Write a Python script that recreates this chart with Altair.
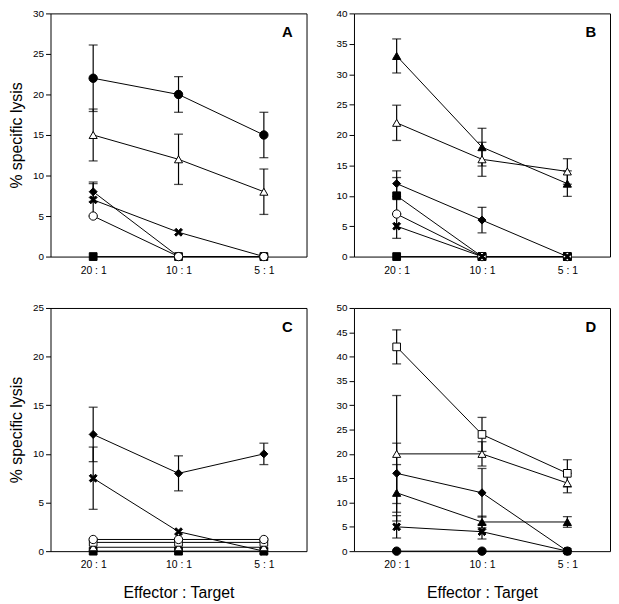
import altair as alt
import pandas as pd

ratios = ["20 : 1", "10 : 1", "5 : 1"]

# panel A
A_series = ["square_f", "circle_f", "tri_o", "diamond_f", "cross", "circle_o"]
A_values = [[0, 0, 0], [22, 20, 15], [15, 12, 8], [8, 0, 0], [7, 3, 0], [5, 0, 0]]
A_errors = [[0, 0, 0], [4.1, 2.2, 2.8], [3.2, 3.1, 2.8], [1.2, 0, 0], [2, 0, 0], [0, 0, 0]]

# panel B
B_series = ["square_f2", "tri_f", "tri_o", "diamond_f", "square_f", "circle_o", "cross"]
B_values = [[0, 0, 0], [33, 18, 12], [22, 16, 14], [12, 6, 0], [10, 0, 0], [7, 0, 0], [5, 0, 0]]
B_errors = [[0, 0, 0], [2.8, 3.1, 2.1], [2.9, 2.8, 2.1], [2.1, 2.1, 0], [3, 0, 0], [0, 0, 0], [2, 0, 0]]

# panel C
C_series = ["square_f", "diamond_f", "cross", "tri_o", "square_o", "circle_o"]
C_values = [[0, 0, 0], [12, 8, 10], [7.5, 2, 0], [0.4, 0.4, 0.4], [0.9, 0.9, 0.9], [1.2, 1.2, 1.2]]
C_errors = [[0, 0, 0], [2.8, 1.8, 1.1], [3.2, 0, 0], [0, 0, 0], [0, 0, 0], [0, 0, 0]]

# panel D
D_series = ["square_o", "tri_o", "diamond_f", "tri_f", "cross", "circle_f"]
D_values = [[42, 24, 16], [20, 20, 14], [16, 12, 0], [12, 6, 6], [5, 4, 0], [0, 0, 0]]
D_errors = [[3.5, 3.5, 2.8], [12, 2.5, 2], [6.2, 5, 0], [5.8, 1.2, 1.1], [2.3, 1.5, 0], [0, 0, 0]]

y_max = {"A": 30, "B": 40, "C": 25, "D": 50}

markers = ["circle_f", "circle_o", "tri_f", "tri_o", "diamond_f", "cross", "square_f", "square_o"]
X_PATH = "M-1,-0.6L-0.6,-1L0,-0.4L0.6,-1L1,-0.6L0.4,0L1,0.6L0.6,1L0,0.4L-0.6,1L-1,0.6L-0.4,0Z"
shape_range = ["circle", "circle", "triangle-up", "triangle-up", "diamond", X_PATH, "square", "square"]
fill_range = ["black", "white", "black", "white", "black", "black", "black", "white"]
size_range = [72, 60, 60, 66, 42, 42, 50, 50]

rows = []
for key, ser, vals, errs in [("A", A_series, A_values, A_errors), ("B", B_series, B_values, B_errors),
                             ("C", C_series, C_values, C_errors), ("D", D_series, D_values, D_errors)]:
    for s, vv, ee in zip(ser, vals, errs):
        for i, (r, v, e) in enumerate(zip(ratios, vv, ee)):
            rows.append({"panel": key, "series": s, "marker": s.rstrip("2"), "ratio": r,
                         "idx": i, "value": v, "err": e, "lo": v - e, "hi": v + e})
df = pd.DataFrame(rows)

W, H = 259, 246


def panel(key, ytitle, xtitle):
    d = df[df.panel == key]
    ymax = y_max[key]
    xenc = alt.X("ratio:N", sort=ratios,
                 scale=alt.Scale(domain=ratios, type="point", padding=0.5),
                 axis=alt.Axis(title=xtitle if xtitle else None, labelAngle=0, ticks=False,
                               domain=False, labelPadding=9, titlePadding=14, labelFontSize=10.5))
    yscale = alt.Scale(domain=[0, ymax], nice=False)
    yaxis = alt.Axis(title=ytitle if ytitle else None, values=list(range(0, ymax + 1, 5)),
                     tickSize=5, labelPadding=2, domain=False, grid=False, titlePadding=8,
                     labelOverlap=False)
    base = alt.Chart(d)
    lines = base.mark_line(color="black", strokeWidth=1).encode(
        x=xenc, y=alt.Y("value:Q", scale=yscale, axis=yaxis),
        detail="series:N", order="idx:Q")
    eb = base.transform_filter("datum.err > 0")
    rules = eb.mark_rule(color="black", strokeWidth=1.2).encode(
        x=xenc, y=alt.Y("lo:Q", scale=yscale, axis=yaxis), y2="hi:Q")
    cap_lo = eb.mark_tick(color="black", size=9, thickness=1.3).encode(
        x=xenc, y=alt.Y("lo:Q", scale=yscale, axis=yaxis))
    cap_hi = eb.mark_tick(color="black", size=9, thickness=1.3).encode(
        x=xenc, y=alt.Y("hi:Q", scale=yscale, axis=yaxis))
    pts = base.mark_point(filled=False, stroke="black", strokeWidth=1, opacity=1).encode(
        x=xenc, y=alt.Y("value:Q", scale=yscale, axis=yaxis),
        shape=alt.Shape("marker:N", scale=alt.Scale(domain=markers, range=shape_range), legend=None),
        fill=alt.Fill("marker:N", scale=alt.Scale(domain=markers, range=fill_range), legend=None),
        size=alt.Size("marker:N", scale=alt.Scale(domain=markers, range=size_range), legend=None))
    lab = alt.Chart(pd.DataFrame({"t": [key]})).mark_text(
        fontWeight="bold", fontSize=15, align="right", baseline="alphabetic", color="black"
    ).encode(text="t:N", x=alt.value(W - 14), y=alt.value(24))
    return alt.layer(lines, rules, cap_lo, cap_hi, pts, lab).properties(width=W, height=H).resolve_scale(
        shape="independent", fill="independent", size="independent")


top = alt.hconcat(panel("A", "% specific lysis", None), panel("B", None, None), spacing=28)
bottom = alt.hconcat(panel("C", "% specific lysis", "Effector : Target"), panel("D", None, "Effector : Target"), spacing=28)
chart = alt.vconcat(top, bottom, spacing=26).properties(
    padding={"left": 0, "top": -4, "right": 0, "bottom": 0}
).configure(font="Liberation Sans").configure_view(stroke="black", strokeWidth=1).configure_axis(
    labelFont="Liberation Sans", labelFontSize=10, labelColor="black", tickColor="black",
    titleFont="Liberation Sans", titleFontSize=16, titleFontWeight="normal", titleColor="black"
).configure_scale(pointPadding=0.5)

chart.save("out.html", embed_options={"renderer": "svg", "actions": False})
